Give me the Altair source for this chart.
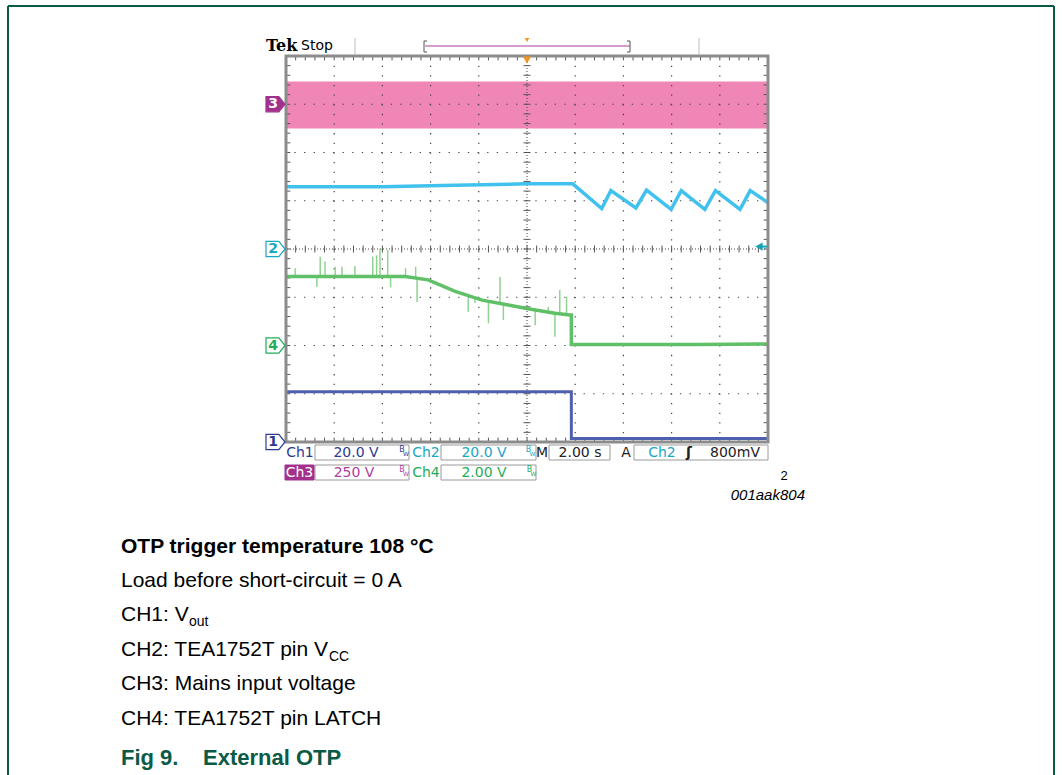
import altair as alt
import pandas as pd

# ---------------- data (in divisions) ----------------
# time axis: 0..10 divisions (2.00 s/div), vertical: 0..8 divisions
cyan_t = [0, 2.0, 3.5, 5.0, 5.95, 6.55, 6.74, 7.26, 7.48, 7.99, 8.20, 8.69, 8.91, 9.42, 9.63, 10.0]
cyan_v = [5.29, 5.29, 5.32, 5.35, 5.35, 4.84, 5.21, 4.85, 5.22, 4.82, 5.21, 4.82, 5.21, 4.82, 5.21, 4.96]

green_t = [0, 1.0, 2.47, 2.95, 3.51, 4.07, 4.61, 5.02, 5.58, 5.89, 5.92, 5.92, 7.0, 8.5, 10.0]
green_v = [3.43, 3.43, 3.43, 3.36, 3.12, 2.94, 2.84, 2.76, 2.67, 2.63, 2.63, 2.02, 2.02, 2.02, 2.03]

spike_t = [0.19, 0.64, 0.71, 0.81, 1.02, 1.16, 1.43, 1.80, 1.88, 1.95, 2.11, 2.17, 2.48, 2.69, 2.72,
           3.78, 3.92, 4.20, 4.44, 4.51, 5.17, 5.44, 5.58, 5.68, 5.82]
spike_base = [3.43, 3.43, 3.43, 3.43, 3.43, 3.43, 3.43, 3.43, 3.43, 3.43, 3.43, 3.43, 3.43, 3.38, 3.37,
              2.98, 2.96, 2.90, 2.86, 2.85, 2.74, 2.70, 2.67, 2.66, 2.64]
spike_tip = [3.60, 3.21, 3.84, 3.74, 3.63, 3.63, 3.65, 3.84, 3.87, 4.01, 3.98, 3.21, 3.60, 3.63, 2.90,
             2.70, 2.88, 2.46, 3.42, 2.53, 2.42, 2.80, 2.18, 3.15, 3.01]

blue_t = [0, 5.92, 5.92, 10.0]
blue_v = [1.04, 1.04, 0.07, 0.07]

pink_t = [0, 10]
pink_lo = [6.50, 6.50]
pink_hi = [7.47, 7.47]

ch_refs = [7, 4, 2, 0]            # channel ground markers: ch3, ch2, ch4, ch1
ch_digits = ["3", "2", "4", "1"]

grid_x = [1, 2, 3, 4, 6, 7, 8, 9]
grid_y = [1, 2, 3, 5, 6, 7]
minor_x = [i / 5 for i in range(1, 50)]
minor_y = [i / 5 for i in range(1, 40)]

row1 = ["Ch1", "20.0 V", "Ch2", "20.0 V", "M", "2.00 s", "A", "Ch2", "ʃ", "800mV"]
row2 = ["Ch3", "250 V", "Ch4", "2.00 V"]

caption_lines = ["OTP trigger temperature 108 °C", "Load before short-circuit = 0 A",
                 "CH1: V", "CH2: TEA1752T pin V", "CH3: Mains input voltage",
                 "CH4: TEA1752T pin LATCH"]
subscripts = ["out", "CC"]
fig_no = "Fig 9."
fig_title = "External OTP"
doc_id = "001aak804"

# ---------------- layout ----------------
X0, Y0, W, H = 286, 56, 482, 386
TW, TH = 1062, 775

PINK = "#ef86b6"
CYAN = "#41c2ee"
GREEN = "#60c067"
GREEN_SP = "#8fd391"
BLUE = "#4e5fae"
C1 = "#2c3a92"
C2 = "#1ba6c4"
C3 = "#a2318d"
C3T = "#b0409c"
C4 = "#1fae57"
NXP = "#0b5a46"

ONE = alt.Data(values=[{"a": 1}])


def xs(f):
    return alt.X(f"{f}:Q", scale=alt.Scale(domain=[0, 10], nice=False, zero=False), axis=None)


def ys(f):
    return alt.Y(f"{f}:Q", scale=alt.Scale(domain=[0, 8], nice=False, zero=False), axis=None)


def T(s, x, y, size=14, color="#000", weight="normal", font="Liberation Sans",
      align="left", baseline="middle", style="normal"):
    return alt.Chart(ONE).mark_text(text=s, fontSize=size, color=color, fontWeight=weight,
                                    font=font, align=align, baseline=baseline,
                                    fontStyle=style).encode(
        x=alt.value(x - X0), y=alt.value(y - Y0))


def R(x1, y1, x2, y2, color, width=1.0):
    return alt.Chart(ONE).mark_rule(color=color, strokeWidth=width).encode(
        x=alt.value(x1 - X0), x2=alt.value(x2 - X0), y=alt.value(y1 - Y0), y2=alt.value(y2 - Y0))


def BOX(x1, y1, x2, y2, fill="#ffffff", stroke="#9a9a9a", sw=1.0):
    return alt.Chart(ONE).mark_rect(fill=fill, stroke=stroke, strokeWidth=sw).encode(
        x=alt.value(x1 - X0), x2=alt.value(x2 - X0), y=alt.value(y1 - Y0), y2=alt.value(y2 - Y0))


layers = []

# pink mains band (ch3)
layers.append(alt.Chart(pd.DataFrame({"t": pink_t, "lo": pink_lo, "hi": pink_hi}))
              .mark_area(color=PINK, opacity=1).encode(x=xs("t"), y=ys("hi"), y2="lo:Q"))

# graticule
DASH = [1.3, 8.34]
layers.append(alt.Chart(pd.DataFrame({"g": grid_x})).mark_rule(color="#444", strokeWidth=1.2, strokeDash=DASH)
              .encode(x=xs("g")))
layers.append(alt.Chart(pd.DataFrame({"g": grid_y})).mark_rule(color="#444", strokeWidth=1.2, strokeDash=DASH)
              .encode(y=ys("g")))
layers.append(alt.Chart(pd.DataFrame({"g": [5]})).mark_rule(color="#444", strokeWidth=1, strokeDash=[1, 2])
              .encode(x=xs("g")))
layers.append(alt.Chart(pd.DataFrame({"g": [4]})).mark_rule(color="#444", strokeWidth=1, strokeDash=[1, 2])
              .encode(y=ys("g")))
layers.append(alt.Chart(pd.DataFrame({"c": [5] * len(minor_y), "p": minor_y}))
              .mark_tick(orient="horizontal", size=7, thickness=1, color="#555", opacity=1)
              .encode(x=xs("c"), y=ys("p")))
layers.append(alt.Chart(pd.DataFrame({"c": [4] * len(minor_x), "p": minor_x}))
              .mark_tick(orient="vertical", size=7, thickness=1, color="#555", opacity=1)
              .encode(x=xs("p"), y=ys("c")))
# edge minor ticks
layers.append(alt.Chart(pd.DataFrame({"p": minor_x, "a": [8] * len(minor_x), "b": [7.91] * len(minor_x)}))
              .mark_rule(color="#555", strokeWidth=1).encode(x=xs("p"), y=ys("a"), y2="b:Q"))
layers.append(alt.Chart(pd.DataFrame({"p": minor_x, "a": [0] * len(minor_x), "b": [0.09] * len(minor_x)}))
              .mark_rule(color="#555", strokeWidth=1).encode(x=xs("p"), y=ys("a"), y2="b:Q"))
layers.append(alt.Chart(pd.DataFrame({"p": minor_y, "a": [0] * len(minor_y), "b": [0.09] * len(minor_y)}))
              .mark_rule(color="#555", strokeWidth=1).encode(y=ys("p"), x=xs("a"), x2="b:Q"))
layers.append(alt.Chart(pd.DataFrame({"p": minor_y, "a": [10] * len(minor_y), "b": [9.91] * len(minor_y)}))
              .mark_rule(color="#555", strokeWidth=1).encode(y=ys("p"), x=xs("a"), x2="b:Q"))

# traces
layers.append(alt.Chart(pd.DataFrame({"t": cyan_t, "v": cyan_v, "i": range(len(cyan_t))}))
              .mark_line(color=CYAN, strokeWidth=3.5, strokeJoin="miter")
              .encode(x=xs("t"), y=ys("v"), order="i:Q"))
layers.append(alt.Chart(pd.DataFrame({"t": spike_t, "a": spike_base, "b": spike_tip}))
              .mark_rule(color=GREEN_SP, strokeWidth=1.5).encode(x=xs("t"), y=ys("a"), y2="b:Q"))
layers.append(alt.Chart(pd.DataFrame({"t": green_t, "v": green_v, "i": range(len(green_t))}))
              .mark_line(color=GREEN, strokeWidth=3.5).encode(x=xs("t"), y=ys("v"), order="i:Q"))
layers.append(alt.Chart(pd.DataFrame({"t": blue_t, "v": blue_v, "i": range(len(blue_t))}))
              .mark_line(color=BLUE, strokeWidth=3).encode(x=xs("t"), y=ys("v"), order="i:Q"))

# plot border
layers.append(alt.Chart(ONE).mark_rect(fillOpacity=0, stroke="#8c8c8c", strokeWidth=3).encode(
    x=alt.value(0), x2=alt.value(W), y=alt.value(0), y2=alt.value(H)))

# trigger position marker (top) and trigger level (right)
layers.append(alt.Chart(pd.DataFrame({"t": [5]})).mark_point(shape="triangle-down", size=70, filled=True,
                                                             color="#f39325", opacity=1)
              .encode(x=xs("t"), y=alt.value(4)))
layers.append(alt.Chart(pd.DataFrame({"v": [4.05]})).mark_point(shape="triangle-left", size=70, filled=True,
                                                                color="#17a2b4", opacity=1)
              .encode(x=alt.value(473), y=ys("v")))
layers.append(alt.Chart(pd.DataFrame({"v": [4.05]})).mark_rule(color="#17a2b4", strokeWidth=2)
              .encode(x=alt.value(473), x2=alt.value(481), y=ys("v")))

# channel ground markers
FLAG = "M-1,-0.8L0.35,-0.8L1,0L0.35,0.8L-1,0.8Z"
flag_fill = [C3, "#ffffff", "#ffffff", "#ffffff"]
flag_stroke = [C3, C2, C4, C1]
digit_col = ["#ffffff", C2, C4, C1]
for ref, d, f, s, dc in zip(ch_refs, ch_digits, flag_fill, flag_stroke, digit_col):
    dfm = pd.DataFrame({"v": [ref]})
    layers.append(alt.Chart(dfm).mark_point(shape=FLAG, size=361, filled=True, fill=f, stroke=s,
                                            strokeWidth=1.2, opacity=1, fillOpacity=1)
                  .encode(x=alt.value(-10.5), y=ys("v")))
    layers.append(alt.Chart(dfm).mark_text(text=d, fontSize=14, fontWeight="bold", font="DejaVu Sans",
                                           color=dc, align="center", baseline="middle")
                  .encode(x=alt.value(-13), y=ys("v")))

# header
layers.append(T("Tek", 266, 46, size=16, weight="bold", font="DejaVu Serif"))
layers.append(T("Stop", 301, 46, size=14, font="DejaVu Sans"))
layers.append(R(355, 38, 355, 55, "#bdbdbd", 1))
layers.append(R(699, 38, 699, 55, "#bdbdbd", 1))
layers.append(R(425, 46, 630, 46, "#c77cc0", 1.5))
layers.append(R(424, 41, 424, 52, "#555", 1))
layers.append(R(424, 41, 427, 41, "#555", 1))
layers.append(R(424, 52, 427, 52, "#555", 1))
layers.append(R(630, 41, 630, 52, "#555", 1))
layers.append(R(627, 41, 630, 41, "#555", 1))
layers.append(R(627, 52, 630, 52, "#555", 1))
layers.append(alt.Chart(ONE).mark_point(shape="triangle-down", size=22, filled=True, color="#f39325", opacity=1)
              .encode(x=alt.value(527 - X0), y=alt.value(40 - Y0)))

# bottom status bar
R1, R2 = 452.5, 472.5
FB = "DejaVu Sans"
layers += [BOX(315, 445, 409, 460), BOX(441, 445, 536, 460), BOX(549, 445, 610, 460), BOX(634, 445, 768, 460),
           BOX(315, 465, 409, 480), BOX(441, 465, 536, 480), BOX(285, 465, 314, 480, fill=C3, stroke=C3)]
row1_pos = [300, 356, 426, 484, 542, 580, 626, 662, 689, 735]
row1_col = [C1, C1, C2, C2, "#222", "#222", "#222", C2, "#222", "#222"]
for s, x, c in zip(row1, row1_pos, row1_col):
    layers.append(T(s, x, R1, size=14, color=c, font=FB, align="center",
                    weight="bold" if s == "ʃ" else "normal"))
row2_pos = [299.5, 354, 426, 484]
row2_col = ["#ffffff", C3T, C4, C4]
for s, x, c in zip(row2, row2_pos, row2_col):
    layers.append(T(s, x, R2, size=14, color=c, font=FB, align="center"))
for x, y, c in [(403.5, R1, C1), (530, R1, C2), (403.5, R2, C3T), (531, R2, C4)]:
    layers.append(T("B", x - 1.5, y - 3, size=8, color=c, font=FB, align="center"))
    layers.append(T("W", x + 2.5, y + 1, size=6, color=c, font=FB, align="center"))

layers.append(T("2", 784, 476, size=13, font="Liberation Sans", align="center"))
layers.append(T(doc_id, 805, 495, size=15, font="Liberation Sans", align="right", style="italic"))

# caption
base_y = [553, 587, 621, 655.5, 690, 724.5]
for i, (s, y) in enumerate(zip(caption_lines, base_y)):
    layers.append(T(s, 121, y, size=21, weight="bold" if i == 0 else "normal", baseline="alphabetic"))
layers.append(T(subscripts[0], 189, 626, size=14, baseline="alphabetic"))
layers.append(T(subscripts[1], 329, 660.5, size=14, baseline="alphabetic"))
layers.append(T(fig_no, 121, 765, size=22, weight="bold", color=NXP, baseline="alphabetic"))
layers.append(T(fig_title, 203, 765, size=22, weight="bold", color=NXP, baseline="alphabetic"))

# figure frame
layers.append(R(8, 6, 1054, 6, NXP, 2))
layers.append(R(8, 6, 8, 775, NXP, 2))
layers.append(R(1054, 6, 1054, 775, NXP, 2))

chart = alt.layer(*layers).properties(
    width=W, height=H,
    padding={"left": X0, "top": Y0, "right": TW - X0 - W, "bottom": TH - Y0 - H},
    autosize=alt.AutoSizeParams(type="none"),
    background="white",
).configure_view(strokeWidth=0)

chart.save("out.html", embed_options={"renderer": "svg", "actions": False})
